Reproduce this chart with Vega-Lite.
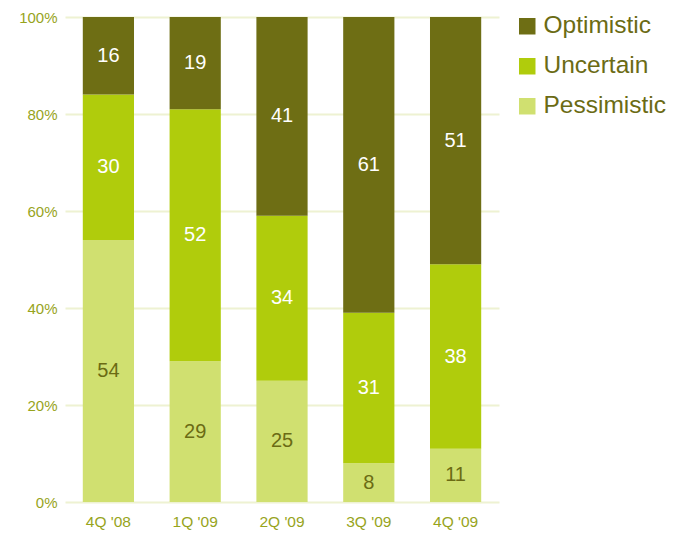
{
  "$schema": "https://vega.github.io/schema/vega-lite/v6.json",
  "width": 434,
  "height": 485,
  "autosize": {"type": "none"},
  "padding": {"left": 65, "top": 17, "right": 190, "bottom": 35},
  "background": "white",
  "config": {
    "view": {"stroke": null},
    "font": "Liberation Sans"
  },
  "data": {
    "values": [
      {"Quarter": "4Q '08", "Outlook": "Pessimistic", "Value": 54},
      {"Quarter": "4Q '08", "Outlook": "Uncertain", "Value": 30},
      {"Quarter": "4Q '08", "Outlook": "Optimistic", "Value": 16},
      {"Quarter": "1Q '09", "Outlook": "Pessimistic", "Value": 29},
      {"Quarter": "1Q '09", "Outlook": "Uncertain", "Value": 52},
      {"Quarter": "1Q '09", "Outlook": "Optimistic", "Value": 19},
      {"Quarter": "2Q '09", "Outlook": "Pessimistic", "Value": 25},
      {"Quarter": "2Q '09", "Outlook": "Uncertain", "Value": 34},
      {"Quarter": "2Q '09", "Outlook": "Optimistic", "Value": 41},
      {"Quarter": "3Q '09", "Outlook": "Pessimistic", "Value": 8},
      {"Quarter": "3Q '09", "Outlook": "Uncertain", "Value": 31},
      {"Quarter": "3Q '09", "Outlook": "Optimistic", "Value": 61},
      {"Quarter": "4Q '09", "Outlook": "Pessimistic", "Value": 11},
      {"Quarter": "4Q '09", "Outlook": "Uncertain", "Value": 38},
      {"Quarter": "4Q '09", "Outlook": "Optimistic", "Value": 51}
    ]
  },
  "transform": [
    {"calculate": "indexof(['Pessimistic','Uncertain','Optimistic'], datum.Outlook)", "as": "rank"},
    {"stack": "Value", "groupby": ["Quarter"], "sort": [{"field": "rank", "order": "ascending"}], "as": ["y0", "y1"]},
    {"calculate": "(datum.y0 + datum.y1) / 2", "as": "ymid"}
  ],
  "encoding": {
    "x": {
      "field": "Quarter",
      "type": "nominal",
      "sort": ["4Q '08", "1Q '09", "2Q '09", "3Q '09", "4Q '09"],
      "scale": {"paddingInner": 0.41, "paddingOuter": 0.205},
      "axis": {
        "title": null,
        "domain": false,
        "ticks": false,
        "labelAngle": 0,
        "labelFontSize": 15.5,
        "labelColor": "#97a41c",
        "labelPadding": 12
      }
    }
  },
  "layer": [
    {
      "mark": {"type": "bar"},
      "encoding": {
        "y": {
          "field": "y0",
          "type": "quantitative",
          "scale": {"domain": [0, 100], "nice": false},
          "axis": {
            "title": null,
            "values": [0, 20, 40, 60, 80, 100],
            "labelExpr": "datum.value + '%'",
            "domain": false,
            "ticks": false,
            "labelFontSize": 15,
            "labelColor": "#97a41c",
            "labelPadding": 8,
            "gridColor": "#eef2d2",
            "gridWidth": 2
          }
        },
        "y2": {"field": "y1"},
        "color": {
          "field": "Outlook",
          "type": "nominal",
          "scale": {
            "domain": ["Optimistic", "Uncertain", "Pessimistic"],
            "range": ["#6e6e14", "#b0cc0c", "#d0e070"]
          },
          "legend": {
            "title": null,
            "orient": "none",
            "legendX": 450,
            "legendY": -3,
            "symbolType": "square",
            "symbolSize": 272,
            "symbolStrokeWidth": 0,
            "labelFontSize": 24.5,
            "labelColor": "#6b6b14",
            "labelOffset": 4,
            "labelLimit": 300,
            "rowPadding": 15
          }
        }
      }
    },
    {
      "mark": {"type": "text", "fontSize": 20, "baseline": "middle"},
      "encoding": {
        "y": {"field": "ymid", "type": "quantitative"},
        "text": {"field": "Value", "type": "quantitative"},
        "color": {
          "condition": {"test": "datum.Outlook === 'Pessimistic'", "value": "#6b6b14"},
          "value": "white"
        }
      }
    }
  ]
}
